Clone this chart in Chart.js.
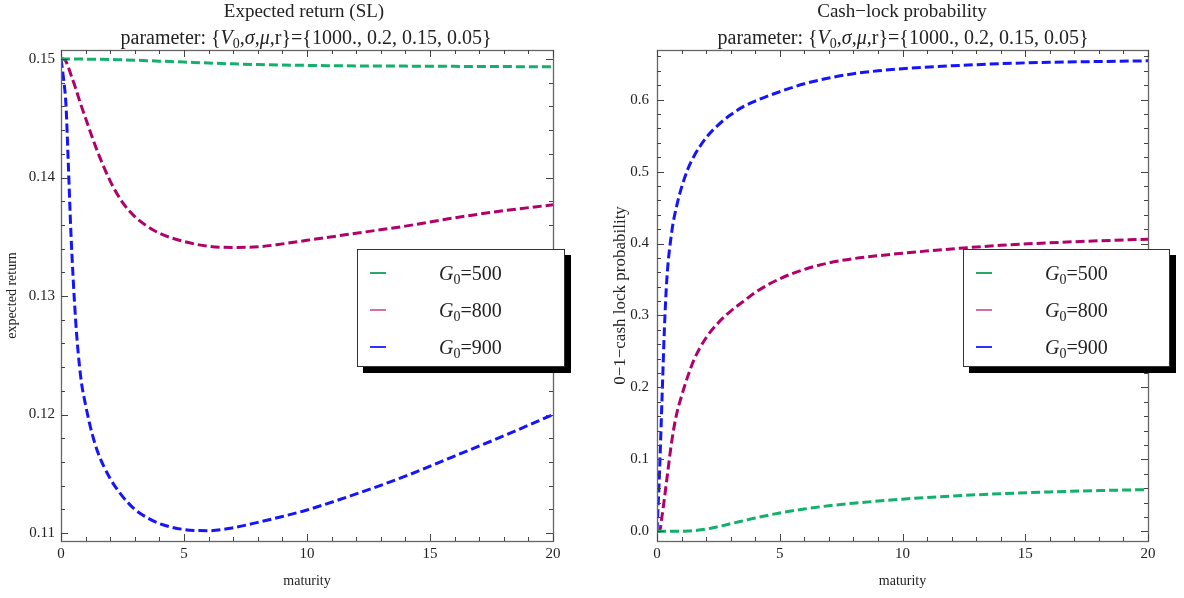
<!DOCTYPE html>
<html lang="en">
<head>
<meta charset="UTF-8">
<title>Expected return and cash-lock probability</title>
<script src="https://cdn.jsdelivr.net/npm/chart.js"></script>
<style>
  body { margin: 0; background: #fff; font-family: "Liberation Serif", serif; color: #222; }
  #wrap { position: relative; width: 1184px; height: 598px; }
  .panel { position: absolute; top: 0; width: 592px; height: 598px; }
  .panel canvas { position: absolute; left: 0; top: 0; }
  .title { position: absolute; width: 600px; text-align: center; font-size: 19px; line-height: 22px; white-space: nowrap; }
  .title.sub { font-size: 20px; }
  sub { font-size: 70%; vertical-align: baseline; position: relative; top: 0.3em; }
  .legend { position: absolute; background: #fff; border: 1px solid #333; box-shadow: 6px 6px 0 #000; }
  .legend .row { position: absolute; left: 0; right: 0; height: 24px; }
  .legend .swatch { position: absolute; left: 12px; top: 11px; width: 16px; height: 1.5px; }
  .legend .lbl { position: absolute; left: 81px; top: 0; font-size: 20px; line-height: 24px; white-space: nowrap; }
</style>
</head>
<body>
<div id="wrap">
  <div class="panel" style="left:0">
    <canvas id="erChart" width="592" height="598"></canvas>
    <div class="title" style="left:4px;top:0">Expected return (SL)</div>
    <div class="title sub" style="left:6px;top:26px">parameter: {<i>V</i><sub>0</sub>,<i>σ</i>,<i>μ</i>,r}={1000., 0.2, 0.15, 0.05}</div>
    <div class="legend" id="erLegend" style="left:357px;top:249px;width:206px;height:116px"></div>
  </div>
  <div class="panel" style="left:592px">
    <canvas id="clChart" width="592" height="598"></canvas>
    <div class="title" style="left:10px;top:0">Cash−lock probability</div>
    <div class="title sub" style="left:11px;top:26px">parameter: {<i>V</i><sub>0</sub>,<i>σ</i>,<i>μ</i>,r}={1000., 0.2, 0.15, 0.05}</div>
    <div class="legend" id="clLegend" style="left:371px;top:249px;width:205px;height:116px"></div>
  </div>
</div>

<script>
  // maturity grid shared by all curves (denser near 0 where the curves bend hardest)
  const maturity = [0, 0.1, 0.2, 0.3, 0.4, 0.6, 0.8, 1, 1.25, 1.5, 2, 2.5, 3, 3.5, 4, 5, 6, 7, 8, 9, 10, 12, 14, 16, 18, 20];
  const guarantees = [500, 800, 900];

  // expected return (SL)
  const erG500 = [0.15, 0.15, 0.15, 0.15, 0.15, 0.15, 0.15, 0.14999, 0.14999, 0.14998, 0.14996, 0.14993, 0.1499, 0.14986, 0.14982, 0.14974, 0.14966, 0.14959, 0.14953, 0.14949, 0.14946, 0.14942, 0.1494, 0.14938, 0.14936, 0.14935];
  const erG800 = [0.15, 0.15, 0.1498, 0.1493, 0.1487, 0.1475, 0.1462, 0.1450, 0.1435, 0.1421, 0.1397, 0.1379, 0.1367, 0.1359, 0.1353, 0.1346, 0.1342, 0.1341, 0.13415, 0.1344, 0.1347, 0.1353, 0.1359, 0.1366, 0.1372, 0.1377];
  const erG900 = [0.15, 0.1484, 0.1462, 0.1410, 0.1355, 0.1278, 0.1232, 0.1208, 0.1185, 0.1168, 0.1146, 0.1131, 0.1120, 0.1113, 0.1108, 0.1103, 0.1102, 0.11045, 0.1109, 0.1114, 0.11195, 0.1133, 0.1148, 0.1165, 0.1182, 0.1200];

  // cash-lock probability
  const clG500 = [0, 0, 0, 0, 0, 0, 0, 0, 0.0003, 0.0009, 0.003, 0.0065, 0.0105, 0.0145, 0.0185, 0.0255, 0.031, 0.0355, 0.039, 0.042, 0.0447, 0.049, 0.0522, 0.0547, 0.0566, 0.058];
  const clG800 = [0, 0, 0.02, 0.045, 0.072, 0.125, 0.163, 0.188, 0.215, 0.238, 0.269, 0.290, 0.306, 0.319, 0.332, 0.351, 0.364, 0.373, 0.379, 0.383, 0.3865, 0.3925, 0.3975, 0.401, 0.4038, 0.406];
  const clG900 = [0, 0.08, 0.18, 0.28, 0.35, 0.416, 0.452, 0.478, 0.503, 0.521, 0.547, 0.565, 0.579, 0.590, 0.598, 0.611, 0.622, 0.630, 0.636, 0.640, 0.643, 0.647, 0.650, 0.652, 0.653, 0.654];

  // tick labels
  const maturityTicks = [0, 5, 10, 15, 20];
  const erTicks = [0.11, 0.12, 0.13, 0.14, 0.15];
  const clTicks = [0, 0.1, 0.2, 0.3, 0.4, 0.5, 0.6];

  const lineColors = ['#12b06a', '#b0006a', '#1414ff'];
  const legendColors = ['#2aa86a', '#d070a8', '#3030ff'];
  const FONT = 'Liberation Serif';

  function stepValues(min, max, step) {
    const out = [];
    for (let i = Math.ceil(min / step - 1e-9); i * step <= max + 1e-9; i++) out.push(i * step);
    return out;
  }

  // Mathematica-style frame: box around the plot with inward ticks on all four sides
  const frameTicks = {
    id: 'frameTicks',
    afterDraw(chart, args, opts) {
      const { ctx, chartArea: a, scales: { x, y } } = chart;
      const r = v => Math.round(v) + 0.5;
      ctx.save();
      ctx.strokeStyle = '#666';
      ctx.lineWidth = 1.3;
      ctx.strokeRect(r(a.left), r(a.top), Math.round(a.right - a.left), Math.round(a.bottom - a.top));
      ctx.lineWidth = 1;
      ctx.strokeStyle = '#444';
      ctx.beginPath();
      const xMajor = x.ticks.map(t => t.value);
      stepValues(x.min, x.max, opts.xMinor).forEach(v => {
        const len = xMajor.some(m => Math.abs(m - v) < 1e-9) ? 7 : 4;
        const px = r(x.getPixelForValue(v));
        ctx.moveTo(px, a.bottom); ctx.lineTo(px, a.bottom - len);
        ctx.moveTo(px, a.top); ctx.lineTo(px, a.top + len);
      });
      const yMajor = y.ticks.map(t => t.value);
      stepValues(y.min, y.max, opts.yMinor).forEach(v => {
        const len = yMajor.some(m => Math.abs(m - v) < 1e-9) ? 7 : 4;
        const py = r(y.getPixelForValue(v));
        ctx.moveTo(a.left, py); ctx.lineTo(a.left + len, py);
        ctx.moveTo(a.right, py); ctx.lineTo(a.right - len, py);
      });
      ctx.stroke();
      ctx.restore();
    }
  };

  function buildLegend(el, chart) {
    el.innerHTML = chart.data.datasets.map((d, i) => `
      <div class="row" style="top:${11 + 37 * i}px">
        <span class="swatch" style="background:${legendColors[i]}"></span>
        <span class="lbl"><i>G</i><sub>0</sub>=${guarantees[i]}</span>
      </div>`).join('');
  }

  function makeChart(id, series, cfg) {
    const tickFont = { family: FONT, size: 15 };
    return new Chart(document.getElementById(id), {
      type: 'line',
      data: {
        datasets: series.map((vals, i) => ({
          label: 'G0=' + guarantees[i],
          data: vals.map((v, k) => ({ x: maturity[k], y: v })),
          borderColor: lineColors[i],
          borderWidth: 3,
          borderDash: [9, 4],
          pointRadius: 0,
          cubicInterpolationMode: 'monotone',
          fill: false
        }))
      },
      options: {
        responsive: false,
        animation: false,
        devicePixelRatio: 1,
        layout: { padding: cfg.padding },
        plugins: {
          legend: { display: false },
          tooltip: { enabled: false },
          frameTicks: { xMinor: 1, yMinor: cfg.yMinor }
        },
        scales: {
          x: {
            type: 'linear',
            min: 0,
            max: 20,
            grid: { display: false, drawTicks: false },
            border: { display: false },
            afterBuildTicks: s => { s.ticks = maturityTicks.map(v => ({ value: v })); },
            afterFit: s => { s.height = 53; },
            ticks: { padding: 4, color: '#222', font: tickFont, maxRotation: 0, callback: v => String(v) },
            title: { display: true, text: 'maturity', color: '#222', font: { family: FONT, size: 14 }, padding: { top: 4, bottom: 4 } }
          },
          y: {
            min: cfg.yMin,
            max: cfg.yMax,
            grid: { display: false, drawTicks: false },
            border: { display: false },
            afterBuildTicks: s => { s.ticks = cfg.ticks.map(v => ({ value: v })); },
            afterFit: s => { s.width = cfg.yWidth; },
            ticks: { padding: cfg.tickPad, color: '#222', font: tickFont, callback: v => v.toFixed(cfg.digits) },
            title: { display: true, text: cfg.yTitle, color: '#222', font: { family: FONT, size: cfg.yTitleSize }, padding: { top: 4, bottom: 4 } }
          }
        }
      },
      plugins: [frameTicks]
    });
  }

  const erChart = makeChart('erChart', [erG500, erG800, erG900], {
    padding: { left: 0, right: 39, top: 50, bottom: 4 },
    yWidth: 61, yMin: 0.10933, yMax: 0.15076, yMinor: 0.002, tickPad: 6,
    ticks: erTicks, digits: 2, yTitle: 'expected return', yTitleSize: 14
  });
  const clChart = makeChart('clChart', [clG500, clG800, clG900], {
    padding: { left: 14, right: 36, top: 50, bottom: 4 },
    yWidth: 51, yMin: -0.0135, yMax: 0.669, yMinor: 0.02, tickPad: 8,
    ticks: clTicks, digits: 1, yTitle: '0−1−cash lock probability', yTitleSize: 17
  });

  buildLegend(document.getElementById('erLegend'), erChart);
  buildLegend(document.getElementById('clLegend'), clChart);
</script>
</body>
</html>
